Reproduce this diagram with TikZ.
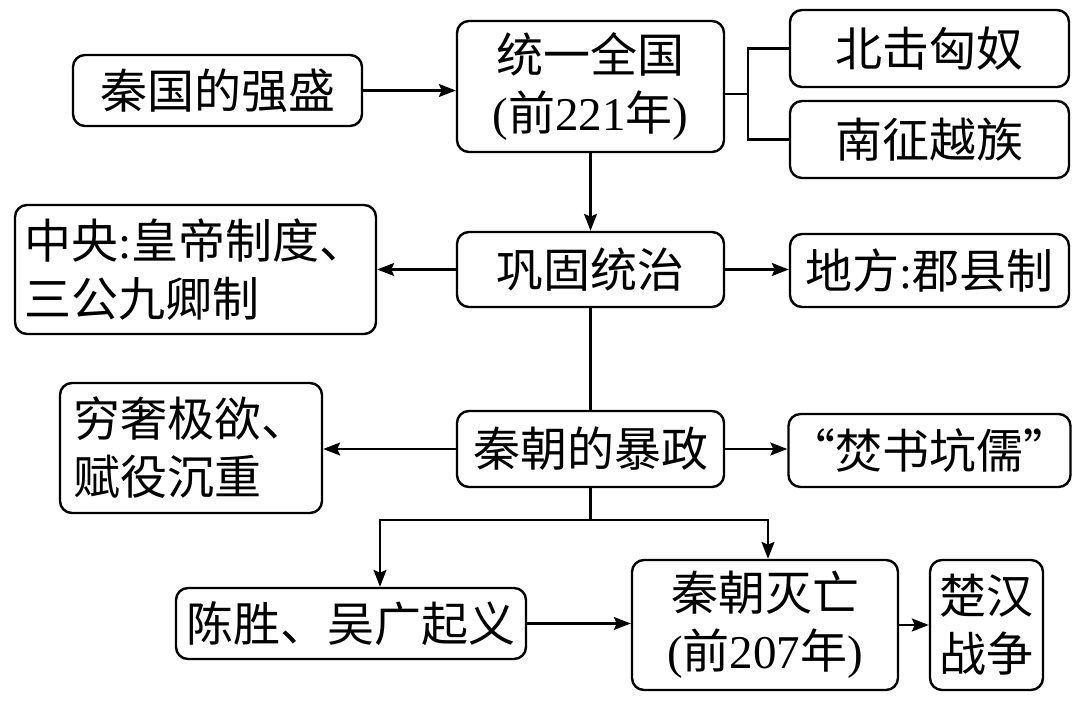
\documentclass[tikz,border=0pt]{standalone}
\usepackage{fontspec}
\setmainfont{Liberation Serif}
\newfontfamily\cjk{Noto Sans CJK SC}
\newfontfamily\latin{Liberation Serif}
\usetikzlibrary{arrows.meta}
\tikzset{
  box/.style={draw, line width=2.4pt, rounded corners=12pt, inner sep=0pt,
    font=\cjk\fontsize{47}{58}\selectfont, align=center},
  conn/.style={line width=2.2pt},
  arr/.style={conn, -{Stealth[length=17pt,width=13pt,inset=3pt]}}
}
\begin{document}
\begin{tikzpicture}[x=1pt,y=-1pt]
\useasboundingbox[fill=white] (0,0) rectangle (1080,703);
\node[box, minimum width=289pt, minimum height=71pt] (b1) at (217.5,90.5) {秦国的强盛};
\node[box, minimum width=267pt, minimum height=131pt] (b2) at (590.5,86.5) {统一全国\\{\latin(}前{\latin221}年{\latin)}};
\node[box, minimum width=279pt, minimum height=77pt] (b3) at (929.5,48.5) {北击匈奴};
\node[box, minimum width=279pt, minimum height=77pt] (b4) at (929.5,139.5) {南征越族};
\node[box, minimum width=361pt, minimum height=129pt, align=left] (b5) at (195.5,269.5) {中央{\latin:}皇帝制度、\\三公九卿制};
\node[box, minimum width=267pt, minimum height=75pt] (b6) at (590.5,269.5) {巩固统治};
\node[box, minimum width=279pt, minimum height=73pt] (b7) at (929.5,270.5) {地方{\latin:}郡县制};
\node[box, minimum width=262pt, minimum height=130pt, align=left] (b8) at (191,448) {穷奢极欲、\\赋役沉重};
\node[box, minimum width=267pt, minimum height=76pt] (b9) at (590.5,449) {秦朝的暴政};
\node[box, minimum width=279pt, minimum height=73pt] (b10) at (929.5,450.5) {“焚书坑儒”};
\node[box, minimum width=350pt, minimum height=71pt] (b11) at (351,623.5) {陈胜、吴广起义};
\node[box, minimum width=266pt, minimum height=130pt] (b12) at (765,625) {秦朝灭亡\\{\latin(}前{\latin207}年{\latin)}};
\node[box, minimum width=113pt, minimum height=130pt] (b13) at (986.5,625) {楚汉\\战争};
% connectors
\draw[arr] (b1.east) -- (b1.east -| b2.west);
\coordinate (j) at (748,94);
\draw[conn] (b2.east |- j) -- (j);
\draw[conn] (b3.west) -| (j) |- (b4.west);
\draw[arr] (b2.south) -- (b6.north);
\draw[arr] (b6.west) -- (b6.west -| b5.east);
\draw[arr] (b6.east) -- (b6.east -| b7.west);
\draw[conn] (b6.south) -- (b9.north);
\draw[arr] (b9.west) -- (b9.west -| b8.east);
\draw[arr] (b9.east) -- (b9.east -| b10.west);
\coordinate (m) at (590.5,520);
\coordinate (t1) at (380,520);
\coordinate (t2) at (768,520);
\draw[conn] (b9.south) -- (m);
\draw[arr] (m) -- (t1) -- (t1 |- b11.north);
\draw[arr] (m) -- (t2) -- (t2 |- b12.north);
\draw[arr] (b11.east) -- (b11.east -| b12.west);
\draw[arr] (b12.east) -- (b12.east -| b13.west);
\end{tikzpicture}
\end{document}
